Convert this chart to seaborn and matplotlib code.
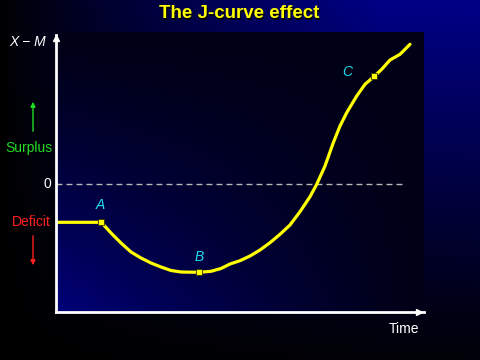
import numpy as np
import pandas as pd
import matplotlib
matplotlib.use("Agg")
import matplotlib.pyplot as plt
import seaborn as sns

# ---- data ----
time = [0.0, 4.53, 5.5, 6.5, 7.5, 8.5, 9.5, 10.5, 11.5, 12.5, 14.33, 15.5, 16.5, 17.4,
        18.4, 19.4, 20.4, 21.4, 22.4, 23.4, 24.4, 25.4, 26.07, 26.9, 27.73, 28.4, 29.07,
        30.07, 30.9, 31.83, 32.57, 33.4, 34.4, 35.4]
balance = [-3.83, -3.83, -4.9, -5.9, -6.8, -7.4, -7.9, -8.3, -8.65, -8.8, -8.83, -8.73,
           -8.45, -8.0, -7.67, -7.2, -6.6, -5.87, -5.03, -4.1, -2.77, -1.27, -0.03, 1.8,
           4.13, 5.8, 7.13, 8.8, 9.97, 10.77, 11.47, 12.4, 12.97, 13.97]
point_labels = ["A", "B", "C"]
point_time = [4.53, 14.33, 31.83]
point_balance = [-3.83, -8.83, 10.77]
label_time = [4.4, 14.3, 29.1]
label_balance = [-2.1, -7.3, 11.2]

df = pd.DataFrame({"time": time, "balance": balance})
pts = pd.DataFrame({"time": point_time, "balance": point_balance})

sns.set_style("dark")
plt.rcParams['font.family'] = ['Liberation Sans', 'DejaVu Sans']

W, H = 480, 360
fig = plt.figure(figsize=(4.8, 3.6), dpi=100)

# ---- background gradients ----
bg = fig.add_axes([0, 0, 1, 1])
bg.set_xlim(0, W)
bg.set_ylim(H, 0)
bg.axis("off")
hh, vv = np.meshgrid(np.linspace(0, 1, 240), np.linspace(0, 1, 180))
blue = 128 * np.clip(hh * 1.25, 0, 1) ** 0.8 * (1 - vv) ** 1.1 + 8 * hh
img = np.zeros((180, 240, 3))
img[..., 2] = np.clip(blue, 0, 255) / 255
bg.imshow(img, extent=(0, W, H, 0), aspect="auto", interpolation="bilinear", zorder=0)

L, R, T, B = 56, 424, 32, 312
ph, pv = np.meshgrid(np.linspace(0, 1, 200), np.linspace(0, 1, 160))
pblue = 22 + 100 * (pv ** 1.3) * (1 - ph) ** 1.2
pimg = np.zeros((160, 200, 3))
pimg[..., 2] = np.clip(pblue, 0, 255) / 255
bg.imshow(pimg, extent=(L, R, B, T), aspect="auto", interpolation="bilinear", zorder=1)

# ---- main axes ----
ax = fig.add_axes([L / W, 1 - B / H, (R - L) / W, (B - T) / H])
ax.patch.set_alpha(0)
ax.set_xlim(0, (R - L) / 10)
ax.set_ylim((184 - B) / 10, (184 - T) / 10)
ax.grid(False)

ax.axhline(0, xmin=0, xmax=(406 - L) / (R - L), color="#b8b8b8", lw=1, dashes=(4.3, 2.9))

sns.lineplot(data=df, x="time", y="balance", ax=ax, color="#ffff00", lw=2.3,
             sort=False, estimator=None)
sns.scatterplot(data=pts, x="time", y="balance", ax=ax, color="#ffff00", marker="s",
                s=14, edgecolor="#303000", linewidth=0.6, zorder=5)
ax.set_xlabel("")
ax.set_ylabel("")
ax.set_xticks([])
ax.set_yticks([])
for s in ["top", "right"]:
    ax.spines[s].set_visible(False)
for s in ["left", "bottom"]:
    ax.spines[s].set_visible(True)
    ax.spines[s].set_color("white")
    ax.spines[s].set_linewidth(2)
ax.spines["left"].set_bounds((184 - B) / 10, (184 - 35) / 10)

for lab, tx, ty in zip(point_labels, label_time, label_balance):
    ax.text(tx, ty, lab, color="#22ddee", fontsize=10, style="italic",
            ha="center", va="center")

# arrowheads on axes
ax.plot([0], [(184 - 38) / 10], marker="^", color="white", ms=5, clip_on=False, zorder=6)
ax.plot([(419 - L) / 10], [(184 - B) / 10], marker=">", color="white", ms=5,
        clip_on=False, zorder=6)

def fx(x):
    return x / W

def fy(y):
    return 1 - y / H

fig.text(fx(240), fy(15), "The J-curve effect", color="black", fontsize=13.5,
         fontweight="bold", ha="center", va="center")
fig.text(fx(239), fy(14), "The J-curve effect", color="#ffff00", fontsize=13.5,
         fontweight="bold", ha="center", va="center")
fig.text(fx(28), fy(42), "X − M", color="white", fontsize=10, style="italic",
         ha="center", va="center")
fig.text(fx(29), fy(148), "Surplus", color="#22dd22", fontsize=10, ha="center", va="center")
fig.text(fx(31), fy(222), "Deficit", color="#ff2020", fontsize=10, ha="center", va="center")
fig.text(fx(51), fy(184), "0", color="white", fontsize=10, ha="right", va="center")
fig.text(fx(404), fy(329), "Time", color="white", fontsize=10, ha="center", va="center")

bg.annotate("", xy=(33, 99), xytext=(33, 134),
            arrowprops=dict(arrowstyle="-|>", color="#22dd22", lw=1, mutation_scale=7))
bg.annotate("", xy=(33, 268), xytext=(33, 233),
            arrowprops=dict(arrowstyle="-|>", color="#ff2020", lw=1, mutation_scale=7))

fig.savefig("out.png", dpi=100, facecolor="black")
